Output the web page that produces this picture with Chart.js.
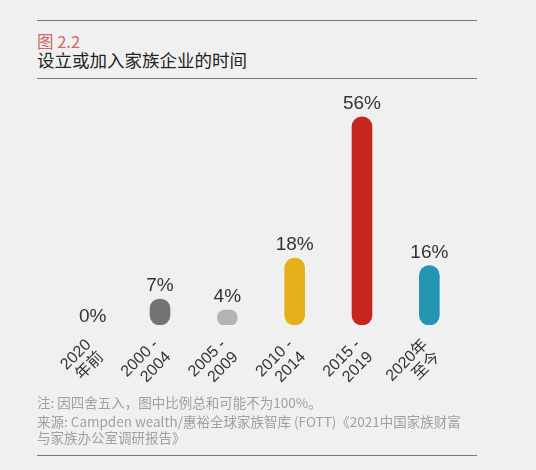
<!DOCTYPE html>
<html>
<head>
<meta charset="utf-8">
<script src="https://cdn.jsdelivr.net/npm/chart.js@4.4.1/dist/chart.umd.min.js"></script>
<style>
  html, body { margin: 0; padding: 0; }
  body { width: 536px; height: 470px; background: #f1f0f1; position: relative; overflow: hidden;
         font-family: "Noto Sans CJK SC", "Liberation Sans", sans-serif; }
  .rule { position: absolute; left: 37px; width: 440px; height: 0; border-top: 1px solid #7a7a7a; }
  #fig { position: absolute; left: 37px; top: 31px; font-size: 16.5px; line-height: 20px; color: #d0665f; }
  #title { position: absolute; left: 37px; top: 49px; font-size: 17.5px; line-height: 22px; color: #222; }
  #note { position: absolute; left: 37px; top: 394px; font-size: 13.5px; line-height: 17px; color: #a0a0a0; }
  #src { position: absolute; left: 37px; top: 414px; font-size: 13.5px; line-height: 15.5px; color: #a0a0a0; }
  #wrap { position: absolute; left: 0; top: 85px; width: 536px; height: 310px; }
</style>
</head>
<body>
<div class="rule" style="top:20px"></div>
<div id="fig">图 2.2</div>
<div id="title">设立或加入家族企业的时间</div>
<div class="rule" style="top:78px"></div>
<div id="wrap"><canvas id="chart"></canvas></div>
<div id="note">注: 因四舍五入，图中比例总和可能不为100%。</div>
<div id="src">来源: Campden wealth/惠裕全球家族智库 (FOTT)《2021中国家族财富<br>与家族办公室调研报告》</div>
<div class="rule" style="top:455px"></div>

<script>
// categories (two-line tick labels) and shares in %
const periods = [
  ["2020", "年前"],
  ["2000 -", "2004"],
  ["2005 -", "2009"],
  ["2010 -", "2014"],
  ["2015 -", "2019"],
  ["2020年", "至今"],
];
const shares = [0, 7, 4, 18, 56, 16];
const valueLabels = ["0%", "7%", "4%", "18%", "56%", "16%"];
const barColors = ["rgba(0,0,0,0)", "#737373", "#b3b3b3", "#e5b01a", "#c5271f", "#2596b2"];

// draws the % text above every bar
const valueLabelPlugin = {
  id: "valueLabels",
  afterDatasetsDraw(chart) {
    const ctx = chart.ctx;
    const meta = chart.getDatasetMeta(0);
    ctx.save();
    ctx.font = "19px 'Liberation Sans', sans-serif";
    ctx.fillStyle = "#333";
    ctx.textAlign = "center";
    ctx.textBaseline = "middle";
    meta.data.forEach((bar, i) => {
      const gap = shares[i] > 0 ? 13 : 8;
      ctx.fillText(valueLabels[i], bar.x, bar.y - gap);
    });
    ctx.restore();
  },
};

const ctx = document.getElementById("chart").getContext("2d");
new Chart(ctx, {
  type: "bar",
  data: {
    labels: periods,
    datasets: [
      {
        data: shares,
        backgroundColor: barColors,
        barThickness: 20,
        borderRadius: 10,
        borderSkipped: false,
      },
    ],
  },
  options: {
    responsive: true,
    maintainAspectRatio: false,
    animation: false,
    layout: { padding: { left: 59, right: 73, top: 0, bottom: 0 } },
    plugins: {
      legend: { display: false },
      tooltip: { enabled: false },
    },
    scales: {
      x: {
        grid: { display: false, drawTicks: false },
        border: { display: false },
        ticks: {
          color: "#333",
          font: { family: "'Liberation Sans', 'Noto Sans CJK SC', sans-serif", size: 16, lineHeight: 1.1 },
          minRotation: 45,
          maxRotation: 45,
          padding: 11,
          labelOffset: -4,
        },
        afterFit: (scale) => {
          scale.height = 70;
        },
      },
      y: {
        display: false,
        min: 0,
        max: 64.6,
      },
    },
  },
  plugins: [valueLabelPlugin],
});
</script>
</body>
</html>
